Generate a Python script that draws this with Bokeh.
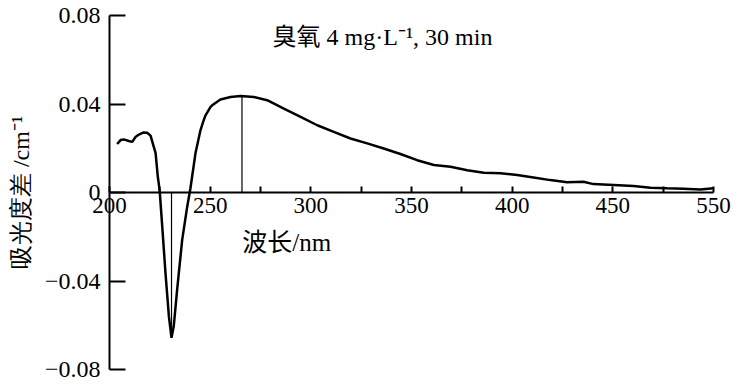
from bokeh.plotting import figure
from bokeh.models import Range1d, FixedTicker, Label
from bokeh.embed import file_html
from bokeh.resources import INLINE

# ---- data (x in axis units) ----
wavelength = [203.8, 205.5, 207.1, 209.6, 211.3, 212.9, 214.6, 216.7, 218.7, 220.4,
              222.0, 222.9, 224.0, 224.9, 226.2, 227.8, 229.5, 230.8, 231.9, 233.6,
              236.1, 238.6, 240.2, 242.7, 245.2, 246.8, 247.7, 250.2, 251.0, 255.1,
              260.1, 265.1, 271.7, 278.3, 286.6, 294.9, 303.2, 311.4, 319.7, 328.0,
              336.2, 344.5, 352.8, 361.1, 369.4, 377.7, 385.9, 394.2, 402.5, 410.6,
              419.0, 427.3, 435.4, 440.4, 450.3, 460.3, 468.7, 477.0, 485.1, 493.5, 500.0]
absorbance_diff = [0.0219, 0.0237, 0.0240, 0.0233, 0.0229, 0.0251, 0.0262, 0.0271, 0.0270, 0.0257,
                   0.0206, 0.0178, 0.0071, 0.0011, -0.0154, -0.0363, -0.0560, -0.0657, -0.0605, -0.0439,
                   -0.0214, -0.0064, 0.0019, 0.0177, 0.0282, 0.0327, 0.0349, 0.0387, 0.0394, 0.0420,
                   0.0432, 0.0436, 0.0432, 0.0417, 0.0379, 0.0342, 0.0304, 0.0274, 0.0244, 0.0222,
                   0.0199, 0.0174, 0.0146, 0.0124, 0.0116, 0.0101, 0.0089, 0.0087, 0.0079, 0.0068,
                   0.0056, 0.0046, 0.0049, 0.0038, 0.0034, 0.0029, 0.0022, 0.0019, 0.0017, 0.0014, 0.0019]

marker_x = [230.8, 265.8]
marker_y = [-0.0650, 0.0436]

x_ticks = [200, 250, 300, 350, 400, 450, 500]
x_tick_labels = ["200", "250", "300", "350", "400", "450", "550"]
x_minor_ticks = [225, 275, 325, 375, 425, 475]
y_ticks = [-0.08, -0.04, 0, 0.04, 0.08]
y_tick_labels = ["\u22120.08", "\u22120.04", "0", "0.04", "0.08"]

title_text = "臭氧 4 mg·L\u207b\u00b9, 30 min"
x_label = "波长/nm"
y_label = "吸光度差 /cm\u207b\u00b9"

SERIF = "Liberation Serif"
MIXED = "'Liberation Serif', 'Noto Sans CJK SC', serif"

# frame fills the figure; axes are bounded to the data extent
p = figure(width=735, height=385, output_backend="svg", toolbar_location=None,
           x_range=Range1d(145.86, 510.93), y_range=Range1d(-0.08723, 0.08678),
           min_border=0, min_border_left=0, min_border_right=0,
           min_border_top=0, min_border_bottom=0)
p.outline_line_color = None
p.xgrid.visible = False
p.ygrid.visible = False
p.background_fill_color = "white"
p.border_fill_color = "white"

xa = p.xaxis[0]
xa.fixed_location = 0
xa.bounds = (200, 500)
xa.ticker = FixedTicker(ticks=x_ticks, minor_ticks=x_minor_ticks)
xa.major_label_overrides = {t: l for t, l in zip(x_ticks, x_tick_labels)}
xa.major_tick_in = 6
xa.major_tick_out = 0
xa.minor_tick_in = 6
xa.minor_tick_out = 0
xa.axis_line_width = 2
xa.major_tick_line_width = 2
xa.minor_tick_line_width = 2
xa.major_label_text_font = SERIF
xa.major_label_text_font_size = "23px"
xa.major_label_text_color = "black"
xa.major_label_standoff = 5

ya = p.yaxis[0]
ya.fixed_location = 200
ya.bounds = (-0.08, 0.08)
ya.ticker = FixedTicker(ticks=y_ticks, minor_ticks=[])
ya.major_label_overrides = {t: l for t, l in zip(y_ticks, y_tick_labels)}
ya.major_tick_in = 16
ya.major_tick_out = 0
ya.axis_line_width = 2
ya.major_tick_line_width = 2
ya.major_label_text_font = SERIF
ya.major_label_text_font_size = "24px"
ya.major_label_text_color = "black"
ya.major_label_standoff = 9
ya.axis_label = y_label
ya.axis_label_text_font = SERIF
ya.axis_label_text_font_size = "24px"
ya.axis_label_text_font_style = "normal"
ya.axis_label_text_color = "black"
ya.axis_label_standoff = 8

p.line(wavelength, absorbance_diff, line_color="black", line_width=2.5)
p.segment(x0=marker_x, y0=[0, 0], x1=marker_x, y1=marker_y, line_color="black", line_width=1.2)

p.add_layout(Label(x=335.6, y=0.0701, text=title_text, text_font=MIXED, text_font_size="24px",
                   text_align="center", text_baseline="middle", text_color="black"))
p.add_layout(Label(x=288, y=-0.0225, text=x_label, text_font=MIXED, text_font_size="25px",
                   text_align="center", text_baseline="middle", text_color="black"))

open("out.html", "w").write(file_html(p, INLINE))
